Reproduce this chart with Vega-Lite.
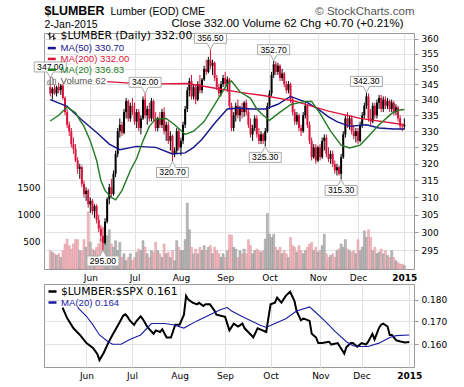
{
  "$schema": "https://vega.github.io/schema/vega-lite/v6.json",
  "background": "white",
  "padding": {"left": 16, "top": 4, "right": 5, "bottom": 5},
  "spacing": 15,
  "bounds": "flush",
  "resolve": {"scale": {"color": "independent", "stroke": "independent"}, "legend": {"color": "independent", "stroke": "independent"}},
  "datasets": {
    "px": [
      {"i":0,"o":344,"h":347,"l":341,"c":342,"v":336},{"i":1,"o":342,"h":344,"l":340,"c":343.5,"v":310},{"i":2,"o":343.5,"h":345,"l":341.5,"c":342,"v":280},{"i":3,"o":342,"h":344.5,"l":341,"c":344,"v":250},{"i":4,"o":344,"h":345.5,"l":342,"c":343,"v":280},{"i":5,"o":343,"h":345,"l":341.5,"c":344.5,"v":213},{"i":6,"o":344.5,"h":345,"l":340,"c":340.5,"v":336},{"i":7,"o":340.5,"h":341,"l":335,"c":336,"v":460},{"i":8,"o":336,"h":337,"l":331,"c":332,"v":551},{"i":9,"o":332,"h":333,"l":328.5,"c":330,"v":430},
      {"i":10,"o":330,"h":331,"l":325,"c":326,"v":366},{"i":11,"o":326,"h":328,"l":323,"c":324.5,"v":460},{"i":12,"o":324.5,"h":326,"l":320.5,"c":321,"v":540},{"i":13,"o":321,"h":322,"l":317,"c":318.5,"v":540},{"i":14,"o":318.5,"h":320,"l":315.5,"c":319,"v":336},{"i":15,"o":319,"h":319.5,"l":313,"c":314,"v":336},{"i":16,"o":314,"h":315,"l":310,"c":311,"v":540},{"i":17,"o":311,"h":313,"l":309,"c":312,"v":400},{"i":18,"o":312,"h":312.5,"l":307,"c":308,"v":1050},{"i":19,"o":308,"h":310,"l":305.5,"c":309,"v":490},
      {"i":20,"o":309,"h":309.5,"l":305,"c":306,"v":366},{"i":21,"o":306,"h":308,"l":304,"c":307.5,"v":336},{"i":22,"o":307.5,"h":308,"l":302.5,"c":303.5,"v":400},{"i":23,"o":303.5,"h":305,"l":300,"c":301,"v":460},{"i":24,"o":301,"h":302,"l":297.5,"c":299,"v":551},{"i":25,"o":299,"h":301.5,"l":295,"c":297,"v":520},{"i":26,"o":297,"h":304,"l":296.5,"c":303,"v":520},{"i":27,"o":303,"h":310,"l":302.5,"c":309.5,"v":610},{"i":28,"o":309.5,"h":314,"l":308,"c":313,"v":720},{"i":29,"o":313,"h":315.5,"l":310,"c":311,"v":460},
      {"i":30,"o":311,"h":318,"l":310.5,"c":317,"v":400},{"i":31,"o":317,"h":324,"l":316,"c":323,"v":520},{"i":32,"o":323,"h":331,"l":322,"c":330,"v":336},{"i":33,"o":330,"h":334,"l":328,"c":332,"v":490},{"i":34,"o":332,"h":333,"l":328.5,"c":329.5,"v":213},{"i":35,"o":329.5,"h":337,"l":329,"c":336,"v":280},{"i":36,"o":336,"h":340.5,"l":334,"c":339.5,"v":153},{"i":37,"o":339.5,"h":340,"l":333,"c":334,"v":213},{"i":38,"o":334,"h":339,"l":333,"c":338,"v":280},{"i":39,"o":338,"h":340.5,"l":335,"c":336,"v":153},
      {"i":40,"o":336,"h":339,"l":332,"c":333,"v":213},{"i":41,"o":333,"h":337,"l":331,"c":336,"v":310},{"i":42,"o":336,"h":337,"l":330,"c":331,"v":366},{"i":43,"o":331,"h":335,"l":329,"c":334,"v":336},{"i":44,"o":334,"h":341,"l":333.5,"c":340,"v":520},{"i":45,"o":340,"h":342,"l":334,"c":335,"v":400},{"i":46,"o":335,"h":338,"l":332,"c":337,"v":280},{"i":47,"o":337,"h":339,"l":333,"c":334,"v":213},{"i":48,"o":334,"h":340.5,"l":333,"c":339.5,"v":336},{"i":49,"o":339.5,"h":340,"l":333,"c":334,"v":310},
      {"i":50,"o":334,"h":336,"l":330,"c":331,"v":490},{"i":51,"o":331,"h":334.5,"l":330,"c":334,"v":336},{"i":52,"o":334,"h":336,"l":331,"c":332,"v":280},{"i":53,"o":332,"h":337,"l":331,"c":336,"v":213},{"i":54,"o":336,"h":337.5,"l":329,"c":330,"v":460},{"i":55,"o":330,"h":333,"l":327,"c":332,"v":280},{"i":56,"o":332,"h":333,"l":326,"c":327,"v":310},{"i":57,"o":327,"h":330,"l":324,"c":328.5,"v":213},{"i":58,"o":328.5,"h":329,"l":320.7,"c":323,"v":336},{"i":59,"o":323,"h":325,"l":322,"c":324,"v":153},
      {"i":60,"o":324,"h":331,"l":323,"c":330,"v":520},{"i":61,"o":330,"h":331,"l":324,"c":325,"v":400},{"i":62,"o":325,"h":328,"l":322.5,"c":327,"v":336},{"i":63,"o":327,"h":333,"l":326,"c":332,"v":336},{"i":64,"o":332,"h":338,"l":331,"c":337,"v":540},{"i":65,"o":337,"h":344,"l":336,"c":343,"v":1210},{"i":66,"o":343,"h":347,"l":341,"c":346,"v":720},{"i":67,"o":346,"h":348,"l":340,"c":341,"v":400},{"i":68,"o":341,"h":345,"l":340,"c":344,"v":280},{"i":69,"o":344,"h":345,"l":338.5,"c":340,"v":366},
      {"i":70,"o":340,"h":346,"l":339.5,"c":345,"v":280},{"i":71,"o":345,"h":348,"l":342,"c":343,"v":400},{"i":72,"o":343,"h":347,"l":342,"c":346.5,"v":336},{"i":73,"o":346.5,"h":351,"l":346,"c":350,"v":430},{"i":74,"o":350,"h":353,"l":348,"c":349,"v":336},{"i":75,"o":349,"h":354,"l":348.5,"c":353,"v":400},{"i":76,"o":353,"h":356.5,"l":350,"c":351,"v":430},{"i":77,"o":351,"h":353,"l":348,"c":352,"v":280},{"i":78,"o":352,"h":352.5,"l":346,"c":347,"v":400},{"i":79,"o":347,"h":348,"l":343,"c":344,"v":336},
      {"i":80,"o":344,"h":345,"l":341,"c":342,"v":280},{"i":81,"o":342,"h":346,"l":341,"c":345,"v":213},{"i":82,"o":345,"h":348,"l":344,"c":347,"v":280},{"i":83,"o":347,"h":349,"l":344,"c":345,"v":213},{"i":84,"o":345,"h":347.5,"l":342.5,"c":346.5,"v":336},{"i":85,"o":346.5,"h":347,"l":337,"c":338,"v":630},{"i":86,"o":338,"h":339,"l":330,"c":331,"v":620},{"i":87,"o":331,"h":336,"l":330,"c":335,"v":400},{"i":88,"o":335,"h":339,"l":333,"c":338,"v":366},{"i":89,"o":338,"h":340,"l":334,"c":335,"v":213},
      {"i":90,"o":335,"h":338,"l":333,"c":337,"v":336},{"i":91,"o":337,"h":339,"l":334,"c":336,"v":280},{"i":92,"o":336,"h":339.5,"l":334.5,"c":339,"v":366},{"i":93,"o":339,"h":340,"l":335,"c":336,"v":280},{"i":94,"o":336,"h":337,"l":331,"c":332,"v":540},{"i":95,"o":332,"h":334,"l":328,"c":329,"v":430},{"i":96,"o":329,"h":332,"l":327,"c":331,"v":280},{"i":97,"o":331,"h":335,"l":330,"c":334,"v":336},{"i":98,"o":334,"h":335,"l":328,"c":329,"v":366},{"i":99,"o":329,"h":331,"l":326,"c":327,"v":336},
      {"i":100,"o":327,"h":330,"l":326,"c":329,"v":310},{"i":101,"o":329,"h":329.5,"l":326,"c":327,"v":336},{"i":102,"o":327,"h":331,"l":325.3,"c":330,"v":551},{"i":103,"o":330,"h":339,"l":329.5,"c":338,"v":1020},{"i":104,"o":338,"h":343,"l":337,"c":342,"v":640},{"i":105,"o":342,"h":349,"l":341,"c":348,"v":580},{"i":106,"o":348,"h":352.7,"l":347,"c":351.5,"v":640},{"i":107,"o":351.5,"h":352.5,"l":348,"c":349,"v":400},{"i":108,"o":349,"h":352,"l":348,"c":351,"v":336},{"i":109,"o":351,"h":351.5,"l":346,"c":347,"v":400},
      {"i":110,"o":347,"h":350,"l":346,"c":348.5,"v":280},{"i":111,"o":348.5,"h":349,"l":344,"c":345,"v":336},{"i":112,"o":345,"h":346,"l":342,"c":343,"v":280},{"i":113,"o":343,"h":346,"l":342,"c":345,"v":213},{"i":114,"o":345,"h":345.5,"l":339,"c":340,"v":580},{"i":115,"o":340,"h":341,"l":335,"c":336,"v":430},{"i":116,"o":336,"h":337,"l":332,"c":333,"v":400},{"i":117,"o":333,"h":336,"l":332,"c":335,"v":310},{"i":118,"o":335,"h":335.5,"l":330,"c":331,"v":430},{"i":119,"o":331,"h":332,"l":328.5,"c":330,"v":336},
      {"i":120,"o":330,"h":336,"l":329.5,"c":335,"v":280},{"i":121,"o":335,"h":339,"l":334,"c":338,"v":336},{"i":122,"o":338,"h":338.5,"l":331,"c":332,"v":400},{"i":123,"o":332,"h":333,"l":326,"c":327,"v":460},{"i":124,"o":327,"h":328,"l":321,"c":322,"v":490},{"i":125,"o":322,"h":326,"l":321.5,"c":325,"v":336},{"i":126,"o":325,"h":326,"l":320,"c":321,"v":400},{"i":127,"o":321,"h":325.5,"l":320.5,"c":325,"v":310},{"i":128,"o":325,"h":326,"l":321,"c":322,"v":336},{"i":129,"o":322,"h":328,"l":321.5,"c":327,"v":430},
      {"i":130,"o":327,"h":329,"l":324,"c":328,"v":640},{"i":131,"o":328,"h":329,"l":322,"c":323,"v":280},{"i":132,"o":323,"h":325,"l":320.5,"c":321.5,"v":213},{"i":133,"o":321.5,"h":324,"l":320,"c":323,"v":250},{"i":134,"o":323,"h":324,"l":319,"c":320,"v":280},{"i":135,"o":320,"h":321,"l":317,"c":318,"v":213},{"i":136,"o":318,"h":320,"l":316.5,"c":319,"v":336},{"i":137,"o":319,"h":319.5,"l":316.5,"c":317,"v":366},{"i":138,"o":317,"h":323,"l":315.3,"c":322,"v":460},{"i":139,"o":322,"h":330,"l":321.5,"c":329,"v":400},
      {"i":140,"o":329,"h":335,"l":328,"c":334,"v":540},{"i":141,"o":334,"h":336,"l":331,"c":332,"v":366},{"i":142,"o":332,"h":335,"l":330.5,"c":334,"v":336},{"i":143,"o":334,"h":335,"l":329,"c":330,"v":310},{"i":144,"o":330,"h":332,"l":327.5,"c":328.5,"v":336},{"i":145,"o":328.5,"h":331,"l":326.5,"c":330,"v":280},{"i":146,"o":330,"h":331,"l":326,"c":327,"v":540},{"i":147,"o":327,"h":333,"l":326.5,"c":332,"v":336},{"i":148,"o":332,"h":336,"l":331,"c":335,"v":400},{"i":149,"o":335,"h":339,"l":334,"c":338,"v":700},
      {"i":150,"o":338,"h":342.3,"l":337,"c":341,"v":580},{"i":151,"o":341,"h":342,"l":333,"c":334,"v":720},{"i":152,"o":334,"h":337,"l":332,"c":333,"v":580},{"i":153,"o":333,"h":339,"l":332.5,"c":338,"v":336},{"i":154,"o":338,"h":339,"l":334,"c":335,"v":400},{"i":155,"o":335,"h":340,"l":334,"c":339,"v":280},{"i":156,"o":339,"h":341.5,"l":337,"c":340.5,"v":310},{"i":157,"o":340.5,"h":341.5,"l":336,"c":337,"v":366},{"i":158,"o":337,"h":341,"l":336,"c":340,"v":280},{"i":159,"o":340,"h":341,"l":337,"c":338,"v":336},
      {"i":160,"o":338,"h":340.5,"l":337,"c":339.5,"v":250},{"i":161,"o":339.5,"h":340,"l":336,"c":337,"v":213},{"i":162,"o":337,"h":340,"l":336,"c":339,"v":336},{"i":163,"o":339,"h":339.5,"l":335,"c":336,"v":213},{"i":164,"o":336,"h":338.5,"l":335,"c":337.5,"v":153},{"i":165,"o":337.5,"h":338,"l":333,"c":334,"v":120},{"i":166,"o":334,"h":335,"l":330.5,"c":331.5,"v":90},{"i":167,"o":331.5,"h":332,"l":330,"c":331.3,"v":90},{"i":168,"o":331.5,"h":334,"l":330.5,"c":332,"v":62}
    ],
    "ma": [
      {"i":0,"s":"MA(50) 330.70","v":340},{"i":8,"s":"MA(50) 330.70","v":337.8},{"i":15,"s":"MA(50) 330.70","v":333.5},{"i":22,"s":"MA(50) 330.70","v":329.6},{"i":28,"s":"MA(50) 330.70","v":326},{"i":33,"s":"MA(50) 330.70","v":324.3},{"i":41,"s":"MA(50) 330.70","v":325.3},{"i":50,"s":"MA(50) 330.70","v":325},{"i":58,"s":"MA(50) 330.70","v":323},{"i":64,"s":"MA(50) 330.70","v":323.3},{"i":68,"s":"MA(50) 330.70","v":325},{"i":72,"s":"MA(50) 330.70","v":327.5},{"i":78,"s":"MA(50) 330.70","v":332.5},{"i":84,"s":"MA(50) 330.70","v":337},{"i":90,"s":"MA(50) 330.70","v":337.3},{"i":95,"s":"MA(50) 330.70","v":337},{"i":102,"s":"MA(50) 330.70","v":337},{"i":108,"s":"MA(50) 330.70","v":338.5},{"i":114,"s":"MA(50) 330.70","v":341},{"i":118,"s":"MA(50) 330.70","v":340},{"i":122,"s":"MA(50) 330.70","v":339},{"i":127,"s":"MA(50) 330.70","v":337},{"i":132,"s":"MA(50) 330.70","v":334.5},{"i":136,"s":"MA(50) 330.70","v":333},{"i":142,"s":"MA(50) 330.70","v":331.5},{"i":150,"s":"MA(50) 330.70","v":332},{"i":156,"s":"MA(50) 330.70","v":331},{"i":163,"s":"MA(50) 330.70","v":330.7},{"i":168,"s":"MA(50) 330.70","v":330.7},
      {"i":27,"s":"MA(200) 332.00","v":345.8},{"i":45,"s":"MA(200) 332.00","v":345},{"i":65,"s":"MA(200) 332.00","v":345.2},{"i":77,"s":"MA(200) 332.00","v":343.8},{"i":90,"s":"MA(200) 332.00","v":342.3},{"i":101,"s":"MA(200) 332.00","v":341.3},{"i":116,"s":"MA(200) 332.00","v":339.5},{"i":132,"s":"MA(200) 332.00","v":336.3},{"i":147,"s":"MA(200) 332.00","v":334},{"i":168,"s":"MA(200) 332.00","v":332},
      {"i":0,"s":"MA(20) 336.83","v":333.2},{"i":4,"s":"MA(20) 336.83","v":335},{"i":8,"s":"MA(20) 336.83","v":337.6},{"i":12,"s":"MA(20) 336.83","v":335.8},{"i":14,"s":"MA(20) 336.83","v":333.5},{"i":16,"s":"MA(20) 336.83","v":331.5},{"i":19,"s":"MA(20) 336.83","v":327},{"i":22,"s":"MA(20) 336.83","v":321},{"i":24,"s":"MA(20) 336.83","v":315},{"i":26,"s":"MA(20) 336.83","v":312},{"i":29,"s":"MA(20) 336.83","v":310},{"i":31,"s":"MA(20) 336.83","v":309.3},{"i":34,"s":"MA(20) 336.83","v":312},{"i":38,"s":"MA(20) 336.83","v":318},{"i":41,"s":"MA(20) 336.83","v":321.6},{"i":44,"s":"MA(20) 336.83","v":327},{"i":47,"s":"MA(20) 336.83","v":331.5},{"i":50,"s":"MA(20) 336.83","v":333.8},{"i":55,"s":"MA(20) 336.83","v":334},{"i":59,"s":"MA(20) 336.83","v":332},{"i":64,"s":"MA(20) 336.83","v":329},{"i":68,"s":"MA(20) 336.83","v":330},{"i":73,"s":"MA(20) 336.83","v":333},{"i":79,"s":"MA(20) 336.83","v":339.5},{"i":84,"s":"MA(20) 336.83","v":345},{"i":86,"s":"MA(20) 336.83","v":346},{"i":90,"s":"MA(20) 336.83","v":342.5},{"i":95,"s":"MA(20) 336.83","v":340.4},{"i":98,"s":"MA(20) 336.83","v":337},{"i":101,"s":"MA(20) 336.83","v":335},{"i":104,"s":"MA(20) 336.83","v":333.4},{"i":109,"s":"MA(20) 336.83","v":336},{"i":114,"s":"MA(20) 336.83","v":338.4},{"i":121,"s":"MA(20) 336.83","v":339.4},{"i":124,"s":"MA(20) 336.83","v":339.4},{"i":128,"s":"MA(20) 336.83","v":335.6},{"i":133,"s":"MA(20) 336.83","v":330},{"i":138,"s":"MA(20) 336.83","v":325.7},{"i":142,"s":"MA(20) 336.83","v":324.8},{"i":147,"s":"MA(20) 336.83","v":325.7},{"i":151,"s":"MA(20) 336.83","v":328.4},{"i":156,"s":"MA(20) 336.83","v":332},{"i":162,"s":"MA(20) 336.83","v":335.6},{"i":165,"s":"MA(20) 336.83","v":336.6},{"i":168,"s":"MA(20) 336.83","v":336.83}
    ],
    "hi": [
      {"i":0,"p":347,"t":"347.00"},{"i":45,"p":342,"t":"342.00"},{"i":76,"p":356.5,"t":"356.50"},{"i":106,"p":352.7,"t":"352.70"},{"i":150,"p":342.3,"t":"342.30"}
    ],
    "lo": [
      {"i":25,"p":295,"t":"295.00"},{"i":58,"p":320.7,"t":"320.70"},{"i":102,"p":325.3,"t":"325.30"},{"i":138,"p":315.3,"t":"315.30"}
    ],
    "rt": [
      {"i":8,"s":"$LUMBER:$SPX 0.161","v":0.1763},{"i":10,"s":"$LUMBER:$SPX 0.161","v":0.1716},{"i":13,"s":"$LUMBER:$SPX 0.161","v":0.1669},{"i":16,"s":"$LUMBER:$SPX 0.161","v":0.164},{"i":19,"s":"$LUMBER:$SPX 0.161","v":0.1605},{"i":22,"s":"$LUMBER:$SPX 0.161","v":0.1585},{"i":24,"s":"$LUMBER:$SPX 0.161","v":0.156},{"i":25,"s":"$LUMBER:$SPX 0.161","v":0.1535},{"i":27,"s":"$LUMBER:$SPX 0.161","v":0.1565},{"i":29,"s":"$LUMBER:$SPX 0.161","v":0.1605},{"i":31,"s":"$LUMBER:$SPX 0.161","v":0.164},{"i":34,"s":"$LUMBER:$SPX 0.161","v":0.169},{"i":36,"s":"$LUMBER:$SPX 0.161","v":0.1726},{"i":37,"s":"$LUMBER:$SPX 0.161","v":0.1732},{"i":38,"s":"$LUMBER:$SPX 0.161","v":0.172},{"i":39,"s":"$LUMBER:$SPX 0.161","v":0.1704},{"i":41,"s":"$LUMBER:$SPX 0.161","v":0.1684},{"i":42,"s":"$LUMBER:$SPX 0.161","v":0.170},{"i":44,"s":"$LUMBER:$SPX 0.161","v":0.1723},{"i":45,"s":"$LUMBER:$SPX 0.161","v":0.171},{"i":47,"s":"$LUMBER:$SPX 0.161","v":0.1677},{"i":48,"s":"$LUMBER:$SPX 0.161","v":0.1665},{"i":50,"s":"$LUMBER:$SPX 0.161","v":0.1645},{"i":51,"s":"$LUMBER:$SPX 0.161","v":0.166},{"i":53,"s":"$LUMBER:$SPX 0.161","v":0.1653},{"i":54,"s":"$LUMBER:$SPX 0.161","v":0.1665},{"i":56,"s":"$LUMBER:$SPX 0.161","v":0.1629},{"i":58,"s":"$LUMBER:$SPX 0.161","v":0.1629},{"i":60,"s":"$LUMBER:$SPX 0.161","v":0.1685},{"i":62,"s":"$LUMBER:$SPX 0.161","v":0.1685},{"i":64,"s":"$LUMBER:$SPX 0.161","v":0.173},{"i":65,"s":"$LUMBER:$SPX 0.161","v":0.1818},{"i":66,"s":"$LUMBER:$SPX 0.161","v":0.180},{"i":68,"s":"$LUMBER:$SPX 0.161","v":0.1786},{"i":70,"s":"$LUMBER:$SPX 0.161","v":0.1778},{"i":71,"s":"$LUMBER:$SPX 0.161","v":0.1785},{"i":73,"s":"$LUMBER:$SPX 0.161","v":0.177},{"i":74,"s":"$LUMBER:$SPX 0.161","v":0.1778},{"i":76,"s":"$LUMBER:$SPX 0.161","v":0.1778},{"i":78,"s":"$LUMBER:$SPX 0.161","v":0.175},{"i":79,"s":"$LUMBER:$SPX 0.161","v":0.173},{"i":81,"s":"$LUMBER:$SPX 0.161","v":0.1725},{"i":83,"s":"$LUMBER:$SPX 0.161","v":0.172},{"i":85,"s":"$LUMBER:$SPX 0.161","v":0.166},{"i":87,"s":"$LUMBER:$SPX 0.161","v":0.169},{"i":89,"s":"$LUMBER:$SPX 0.161","v":0.1677},{"i":91,"s":"$LUMBER:$SPX 0.161","v":0.169},{"i":92,"s":"$LUMBER:$SPX 0.161","v":0.1669},{"i":95,"s":"$LUMBER:$SPX 0.161","v":0.164},{"i":96,"s":"$LUMBER:$SPX 0.161","v":0.1629},{"i":98,"s":"$LUMBER:$SPX 0.161","v":0.1669},{"i":100,"s":"$LUMBER:$SPX 0.161","v":0.1661},{"i":102,"s":"$LUMBER:$SPX 0.161","v":0.1653},{"i":103,"s":"$LUMBER:$SPX 0.161","v":0.1716},{"i":104,"s":"$LUMBER:$SPX 0.161","v":0.1778},{"i":106,"s":"$LUMBER:$SPX 0.161","v":0.1786},{"i":107,"s":"$LUMBER:$SPX 0.161","v":0.181},{"i":109,"s":"$LUMBER:$SPX 0.161","v":0.1786},{"i":111,"s":"$LUMBER:$SPX 0.161","v":0.1818},{"i":113,"s":"$LUMBER:$SPX 0.161","v":0.1838},{"i":115,"s":"$LUMBER:$SPX 0.161","v":0.1794},{"i":116,"s":"$LUMBER:$SPX 0.161","v":0.1747},{"i":118,"s":"$LUMBER:$SPX 0.161","v":0.1705},{"i":119,"s":"$LUMBER:$SPX 0.161","v":0.1712},{"i":120,"s":"$LUMBER:$SPX 0.161","v":0.171},{"i":122,"s":"$LUMBER:$SPX 0.161","v":0.1702},{"i":123,"s":"$LUMBER:$SPX 0.161","v":0.1645},{"i":125,"s":"$LUMBER:$SPX 0.161","v":0.1629},{"i":126,"s":"$LUMBER:$SPX 0.161","v":0.1605},{"i":128,"s":"$LUMBER:$SPX 0.161","v":0.1605},{"i":129,"s":"$LUMBER:$SPX 0.161","v":0.1608},{"i":131,"s":"$LUMBER:$SPX 0.161","v":0.1611},{"i":132,"s":"$LUMBER:$SPX 0.161","v":0.1599},{"i":135,"s":"$LUMBER:$SPX 0.161","v":0.1605},{"i":136,"s":"$LUMBER:$SPX 0.161","v":0.159},{"i":137,"s":"$LUMBER:$SPX 0.161","v":0.1576},{"i":138,"s":"$LUMBER:$SPX 0.161","v":0.1561},{"i":139,"s":"$LUMBER:$SPX 0.161","v":0.1588},{"i":141,"s":"$LUMBER:$SPX 0.161","v":0.1605},{"i":142,"s":"$LUMBER:$SPX 0.161","v":0.1605},{"i":144,"s":"$LUMBER:$SPX 0.161","v":0.159},{"i":146,"s":"$LUMBER:$SPX 0.161","v":0.1605},{"i":148,"s":"$LUMBER:$SPX 0.161","v":0.1599},{"i":149,"s":"$LUMBER:$SPX 0.161","v":0.161},{"i":151,"s":"$LUMBER:$SPX 0.161","v":0.1645},{"i":152,"s":"$LUMBER:$SPX 0.161","v":0.1621},{"i":154,"s":"$LUMBER:$SPX 0.161","v":0.167},{"i":155,"s":"$LUMBER:$SPX 0.161","v":0.1685},{"i":156,"s":"$LUMBER:$SPX 0.161","v":0.169},{"i":158,"s":"$LUMBER:$SPX 0.161","v":0.1677},{"i":159,"s":"$LUMBER:$SPX 0.161","v":0.164},{"i":160,"s":"$LUMBER:$SPX 0.161","v":0.164},{"i":162,"s":"$LUMBER:$SPX 0.161","v":0.1617},{"i":164,"s":"$LUMBER:$SPX 0.161","v":0.1612},{"i":166,"s":"$LUMBER:$SPX 0.161","v":0.1608},{"i":168,"s":"$LUMBER:$SPX 0.161","v":0.161},
      {"i":15,"s":"MA(20) 0.164","v":0.1763},{"i":19,"s":"MA(20) 0.164","v":0.1723},{"i":22,"s":"MA(20) 0.164","v":0.1684},{"i":25,"s":"MA(20) 0.164","v":0.164},{"i":29,"s":"MA(20) 0.164","v":0.1611},{"i":31,"s":"MA(20) 0.164","v":0.160},{"i":35,"s":"MA(20) 0.164","v":0.160},{"i":39,"s":"MA(20) 0.164","v":0.162},{"i":44,"s":"MA(20) 0.164","v":0.164},{"i":49,"s":"MA(20) 0.164","v":0.169},{"i":55,"s":"MA(20) 0.164","v":0.169},{"i":59,"s":"MA(20) 0.164","v":0.1685},{"i":64,"s":"MA(20) 0.164","v":0.167},{"i":70,"s":"MA(20) 0.164","v":0.1702},{"i":76,"s":"MA(20) 0.164","v":0.173},{"i":81,"s":"MA(20) 0.164","v":0.1754},{"i":84,"s":"MA(20) 0.164","v":0.1763},{"i":86,"s":"MA(20) 0.164","v":0.1747},{"i":92,"s":"MA(20) 0.164","v":0.1716},{"i":99,"s":"MA(20) 0.164","v":0.1684},{"i":102,"s":"MA(20) 0.164","v":0.1673},{"i":106,"s":"MA(20) 0.164","v":0.169},{"i":111,"s":"MA(20) 0.164","v":0.1712},{"i":116,"s":"MA(20) 0.164","v":0.1747},{"i":122,"s":"MA(20) 0.164","v":0.1766},{"i":125,"s":"MA(20) 0.164","v":0.1739},{"i":129,"s":"MA(20) 0.164","v":0.1702},{"i":134,"s":"MA(20) 0.164","v":0.1653},{"i":139,"s":"MA(20) 0.164","v":0.1611},{"i":142,"s":"MA(20) 0.164","v":0.1594},{"i":145,"s":"MA(20) 0.164","v":0.1591},{"i":149,"s":"MA(20) 0.164","v":0.1591},{"i":154,"s":"MA(20) 0.164","v":0.1605},{"i":159,"s":"MA(20) 0.164","v":0.1629},{"i":162,"s":"MA(20) 0.164","v":0.1637},{"i":168,"s":"MA(20) 0.164","v":0.164}
    ]
  },
  "vconcat": [
    {
      "width": 370,
      "height": 236,
      "layer": [
        {
          "data": {"name": "px"},
          "mark": {"type": "bar", "width": 2, "strokeWidth": 0.5, "opacity": 0.9},
          "encoding": {
            "x": {"field": "i", "type": "quantitative", "scale": {"domain": [-0.6, 170.2], "nice": false, "zero": false},
                  "axis": {"values": [19,40,62,83,104,127,146,168], "labelExpr": "['Jun','Jul','Aug','Sep','Oct','Nov','Dec','2015'][indexof([19,40,62,83,104,127,146,168], datum.value)]", "grid": true, "ticks": false, "labelPadding": 4, "labelFontWeight": {"condition": {"test": "datum.value == 168", "value": "bold"}, "value": "normal"},
                           "title": "2-Jan-2015", "titleX": 0, "titleY": -241.6, "titleAlign": "left", "titleBaseline": "alphabetic", "titleFont": "Liberation Sans", "titleFontSize": 10.5, "titleFontWeight": "normal", "titleColor": "#000000"}},
            "y": {"field": "v", "type": "quantitative", "scale": {"domain": [0, 4338], "nice": false},
                  "axis": {"orient": "left", "values": [500,1000,1500], "format": "d", "grid": false, "ticks": false, "labelPadding": 4,
                           "title": "$LUMBER", "titleAngle": 0, "titleX": 0, "titleY": -18.3, "titleAlign": "left", "titleBaseline": "alphabetic", "titleFont": "Liberation Sans", "titleFontSize": 12.4, "titleFontWeight": "bold", "titleColor": "#000000"}},
            "fill": {"condition": {"test": "datum.c >= datum.o", "value": "#b2b2b2"}, "value": "#f0b0b8"},
            "stroke": {"condition": {"test": "datum.c >= datum.o", "value": "#8a8a8a"}, "value": "#d8909a"}
          }
        },
        {
          "layer": [
            {
              "data": {"name": "px"},
              "mark": {"type": "rule", "strokeWidth": 1},
              "encoding": {
                "x": {"field": "i", "type": "quantitative", "scale": {"domain": [-0.6, 170.2], "nice": false, "zero": false}},
                "y": {"field": "l", "type": "quantitative", "scale": {"type": "log", "domain": [289.76, 362.04], "nice": false},
                      "axis": {"orient": "right", "values": [295,300,305,310,315,320,325,330,335,340,345,350,355,360], "grid": true, "format": "d", "labelPadding": 3,
                               "title": "© StockCharts.com", "titleAngle": 0, "titleX": 0, "titleY": -19, "titleAlign": "right", "titleBaseline": "alphabetic", "titleFont": "Liberation Sans", "titleFontSize": 11.5, "titleFontWeight": "normal", "titleColor": "#555555"}},
                "y2": {"field": "h"},
                "color": {"condition": {"test": "datum.c >= datum.o", "value": "#000000"}, "value": "#d8143c"}
              }
            },
            {
              "data": {"name": "px"},
              "mark": {"type": "bar", "width": 2},
              "encoding": {
                "x": {"field": "i", "type": "quantitative", "scale": {"domain": [-0.6, 170.2], "nice": false, "zero": false}},
                "y": {"field": "o", "type": "quantitative", "scale": {"type": "log", "domain": [289.76, 362.04], "nice": false}},
                "y2": {"field": "c"},
                "color": {"condition": {"test": "datum.c >= datum.o", "value": "#000000"}, "value": "#d8143c"}
              }
            },
            {
              "data": {"name": "ma"},
              "mark": {"type": "line", "strokeWidth": 1.4},
              "encoding": {
                "x": {"field": "i", "type": "quantitative", "scale": {"domain": [-0.6, 170.2], "nice": false, "zero": false}},
                "y": {"field": "v", "type": "quantitative", "scale": {"type": "log", "domain": [289.76, 362.04], "nice": false}},
                "color": {"field": "s", "type": "nominal",
                  "scale": {"domain": ["$LUMBER (Daily) 332.00", "MA(50) 330.70", "MA(200) 332.00", "MA(20) 336.83", "Volume 62"], "range": ["#000000", "#16168c", "#dc143c", "#237a23", "#8c8c8c"]},
                  "legend": {"orient": "none", "legendX": 3, "legendY": -1.5, "title": null, "padding": 0, "symbolType": "stroke", "symbolStrokeWidth": 2.5, "symbolSize": 64, "labelFontSize": 9, "rowPadding": -0.2, "labelOffset": 4,
                    "encode": {
                      "labels": {"update": {
                        "fill": {"signal": "datum.value == 'MA(50) 330.70' ? '#16168c' : datum.value == 'MA(200) 332.00' ? '#dc143c' : datum.value == 'MA(20) 336.83' ? '#237a23' : datum.value == 'Volume 62' ? '#555555' : '#000000'"},
                        "font": {"signal": "datum.value == '$LUMBER (Daily) 332.00' ? 'DejaVu Sans' : 'Liberation Sans'"},
                        "fontSize": {"signal": "datum.value == '$LUMBER (Daily) 332.00' ? 10.8 : 9.6"}
                      }},
                      "symbols": {"update": {
                        "shape": {"signal": "datum.value == 'Volume 62' ? 'M-1,1V0.1H-0.45V1ZM-0.3,1V-0.8H0.25V1ZM0.4,1V-0.3H0.95V1Z' : datum.value == '$LUMBER (Daily) 332.00' ? 'M-0.5,-1V0.8M-0.5,-0.4H-1M-0.5,0.2H0M0.5,-0.6V1M0.5,0H0M0.5,0.5H1' : 'stroke'"},
                        "strokeWidth": {"signal": "datum.value == 'Volume 62' || datum.value == '$LUMBER (Daily) 332.00' ? 1 : 2.5"}
                      }}
                    }}
                }
              }
            },
            {
              "data": {"name": "hi"},
              "mark": {"type": "point", "shape": "M-1,-1H1V-0.375H0.2L0,0L-0.2,-0.375H-1Z", "size": 1024, "filled": true, "fill": "#ffffff", "stroke": "#aaaaaa", "strokeWidth": 1, "opacity": 1},
              "encoding": {
                "x": {"field": "i", "type": "quantitative", "scale": {"domain": [-0.6, 170.2], "nice": false, "zero": false}},
                "y": {"field": "p", "type": "quantitative", "scale": {"type": "log", "domain": [289.76, 362.04], "nice": false}}
              }
            },
            {
              "data": {"name": "hi"},
              "mark": {"type": "text", "dy": -11, "font": "Liberation Sans", "fontSize": 8.6, "baseline": "middle", "color": "#000"},
              "encoding": {
                "x": {"field": "i", "type": "quantitative", "scale": {"domain": [-0.6, 170.2], "nice": false, "zero": false}},
                "y": {"field": "p", "type": "quantitative", "scale": {"type": "log", "domain": [289.76, 362.04], "nice": false}},
                "text": {"field": "t"}
              }
            },
            {
              "data": {"name": "lo"},
              "mark": {"type": "point", "shape": "M-1,1H1V0.375H0.2L0,0L-0.2,0.375H-1Z", "size": 1024, "filled": true, "fill": "#ffffff", "stroke": "#aaaaaa", "strokeWidth": 1, "opacity": 1},
              "encoding": {
                "x": {"field": "i", "type": "quantitative", "scale": {"domain": [-0.6, 170.2], "nice": false, "zero": false}},
                "y": {"field": "p", "type": "quantitative", "scale": {"type": "log", "domain": [289.76, 362.04], "nice": false}}
              }
            },
            {
              "data": {"name": "lo"},
              "mark": {"type": "text", "dy": 11, "font": "Liberation Sans", "fontSize": 8.6, "baseline": "middle", "color": "#000"},
              "encoding": {
                "x": {"field": "i", "type": "quantitative", "scale": {"domain": [-0.6, 170.2], "nice": false, "zero": false}},
                "y": {"field": "p", "type": "quantitative", "scale": {"type": "log", "domain": [289.76, 362.04], "nice": false}},
                "text": {"field": "t"}
              }
            }
          ]
        }
      ],
      "resolve": {"scale": {"y": "independent"}}
    },
    {
      "width": 370,
      "height": 83,
      "data": {"name": "rt"},
      "layer": [
        {
          "transform": [{"filter": "datum.s == '$LUMBER:$SPX 0.161'"}],
          "mark": {"type": "line", "strokeWidth": 2},
          "encoding": {
            "x": {"field": "i", "type": "quantitative", "scale": {"domain": [-0.6, 170.2], "nice": false, "zero": false},
                  "axis": {"values": [19,40,62,83,104,127,146,168], "labelExpr": "['Jun','Jul','Aug','Sep','Oct','Nov','Dec','2015'][indexof([19,40,62,83,104,127,146,168], datum.value)]", "grid": true, "ticks": false, "labelPadding": 4, "labelFontWeight": {"condition": {"test": "datum.value == 168", "value": "bold"}, "value": "normal"},
                           "title": "Close 332.00    Volume 62    Chg +0.70 (+0.21%)", "titleX": 359, "titleY": -340.3, "titleAlign": "right", "titleBaseline": "alphabetic", "titleFont": "Liberation Sans", "titleFontSize": 11.5, "titleFontWeight": "normal", "titleColor": "#000000"}},
            "y": {"field": "v", "type": "quantitative", "scale": {"type": "log", "domain": [0.1507, 0.1876], "nice": false},
                  "axis": {"orient": "right", "values": [0.16, 0.17, 0.18], "format": ".3f", "grid": true, "labelPadding": 3,
                           "title": "Lumber (EOD) CME", "titleAngle": 0, "titleX": -304, "titleY": -270, "titleAlign": "left", "titleBaseline": "alphabetic", "titleFont": "Liberation Sans", "titleFontSize": 10.5, "titleFontWeight": "normal", "titleColor": "#000000"}},
            "stroke": {"field": "s", "type": "nominal",
              "scale": {"domain": ["$LUMBER:$SPX 0.161", "MA(20) 0.164"], "range": ["#000000", "#1c1ca0"]},
              "legend": {"orient": "none", "legendX": 3, "legendY": 2, "title": null, "padding": 0, "symbolType": "stroke", "symbolStrokeWidth": 2.5, "symbolSize": 64, "labelFontSize": 9, "rowPadding": -0.5, "labelOffset": 3,
                "encode": {"labels": {"update": {
                  "fill": {"signal": "datum.value == 'MA(20) 0.164' ? '#1c1ca0' : '#000000'"},
                  "font": {"signal": "datum.value == 'MA(20) 0.164' ? 'Liberation Sans' : 'DejaVu Sans'"},
                  "fontSize": {"signal": "datum.value == 'MA(20) 0.164' ? 9.6 : 10.8"}
                }}}}
            }
          }
        },
        {
          "transform": [{"filter": "datum.s == 'MA(20) 0.164'"}],
          "mark": {"type": "line", "strokeWidth": 1.1},
          "encoding": {
            "x": {"field": "i", "type": "quantitative", "scale": {"domain": [-0.6, 170.2], "nice": false, "zero": false}},
            "y": {"field": "v", "type": "quantitative", "scale": {"type": "log", "domain": [0.1507, 0.1876], "nice": false}},
            "stroke": {"field": "s", "type": "nominal", "scale": {"domain": ["$LUMBER:$SPX 0.161", "MA(20) 0.164"], "range": ["#000000", "#1c1ca0"]}}
          }
        }
      ]
    }
  ],
  "config": {
    "font": "DejaVu Sans",
    "view": {"stroke": "#999999", "strokeWidth": 1},
    "axis": {"labelFont": "DejaVu Sans", "labelFontSize": 9, "labelColor": "#000000", "gridColor": "#e2e2e2", "gridWidth": 1, "domain": false, "tickColor": "#999999", "tickSize": 4},
    "legend": {"labelFont": "Liberation Sans"}
  }
}
